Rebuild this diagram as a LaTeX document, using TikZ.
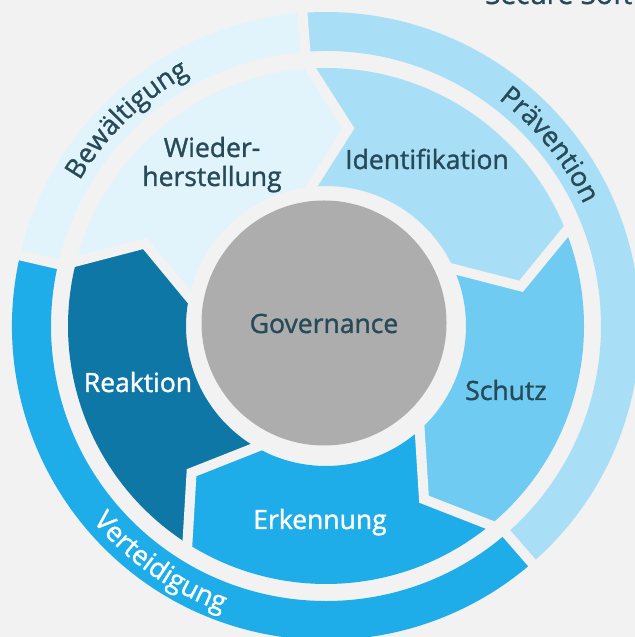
\documentclass[tikz,border=0pt]{standalone}
\usepackage{fontspec}
\setmainfont{Open Sans}
\newfontfamily\medfont[FakeBold=1.3]{Open Sans}
\newfontfamily\ringfont[FakeBold=1.1]{Open Sans}
\usetikzlibrary{decorations.text,calc}
\definecolor{bg}{HTML}{F2F2F2}
\definecolor{cVL}{HTML}{E1F4FC}
\definecolor{cL}{HTML}{A9DFF6}
\definecolor{cM}{HTML}{6FCBF1}
\definecolor{cB}{HTML}{1FADEA}
\definecolor{cD}{HTML}{0F77A6}
\definecolor{cG}{HTML}{ADADAD}
\definecolor{txt}{HTML}{274A58}
\newcommand{\segfill}[3]{%
  \fill[#1] (#2:258) arc[start angle=#2, end angle=#3, radius=258]
    -- ({#3-10}:199) -- ({#3+2.5}:140)
    arc[start angle={#3+2.5}, end angle={#2+2.5}, radius=140]
    -- ({#2-10}:199) -- cycle;}
\newcommand{\segcut}[1]{%
  \draw[gapline] ($({#1-10}:199)!1.3!(#1:258)$) -- ({#1-10}:199)
    -- ($({#1-10}:199)!1.3!({#1+2.5}:140)$);}
\newcommand{\ringfill}[3]{%
  \fill[#1] (#2:314) arc[start angle=#2, end angle=#3, radius=314]
    -- (#3:275) arc[start angle=#3, end angle=#2, radius=275] -- cycle;}
\begin{document}
\begin{tikzpicture}[x=1bp,y=1bp,
  gapline/.style={draw=bg, line width=10bp, line join=miter},
  lab/.style={font=\medfont\fontsize{26.5bp}{30bp}\selectfont, inner sep=0pt, align=center},
  darklab/.style={lab, text=txt},
  whitelab/.style={lab, text=white}]
\useasboundingbox (0,0) rectangle (635,637);
\clip (0,0) rectangle (635,637);
\fill[bg] (0,0) rectangle (635,637);
\node[anchor=base west, text=txt, font=\ringfont\fontsize{28bp}{32bp}\selectfont, inner sep=0pt] (title) at (485,633) {Secure Software};
\begin{scope}[shift={(326,311)}]
  % inner segments
  \segfill{cL}{93.5}{21.5}
  \segfill{cM}{21.5}{-50.5}
  \segfill{cB}{-50.5}{-122.5}
  \segfill{cD}{-122.5}{-194.5}
  \segfill{cVL}{165.5}{93.5}
  \segcut{93.5}
  \segcut{21.5}
  \segcut{-50.5}
  \segcut{-122.5}
  \segcut{165.5}
  % outer ring
  \ringfill{cL}{-49}{94.3}
  \ringfill{cVL}{94.3}{167}
  \ringfill{cB}{167}{311}
  \draw[gapline] (94.3:268) -- (94.3:322);
  \draw[gapline] (167:268) -- (167:322);
  \draw[gapline] (-49:268) -- (-49:322);
  % outer labels
  \path[decorate, decoration={text along path, text align=center,
    text={|\ringfont\fontsize{27bp}{30bp}\selectfont\color{txt}|Bewältigung}}]
    (170:286) arc[start angle=170, end angle=98, radius=286];
  \path[decorate, decoration={text along path, text align=center,
    text={|\ringfont\fontsize{27bp}{30bp}\selectfont\color{txt}|Prävention}}]
    (75:285) arc[start angle=75, end angle=3, radius=285];
  \path[decorate, decoration={text along path, text align=center,
    text={|\ringfont\fontsize{27bp}{30bp}\selectfont\color{white}|Verteidigung}}]
    (190:304) arc[start angle=190, end angle=280, radius=304];
\end{scope}
\node[circle, fill=cG, minimum size=245bp, inner sep=0pt] (gov) at (324,314) {};
\node[darklab, anchor=base] (govlab) at (324,304) {Governance};
\node[darklab, anchor=base] (ident) at (427,468) {Identifikation};
\node[darklab, anchor=base] (schutz) at (506,237) {Schutz};
\node[whitelab, anchor=base] (erk) at (320,108) {Erkennung};
\node[whitelab, anchor=base] (reak) at (138,245) {Reaktion};
\node[darklab, anchor=base] (wied1) at (212,480) {Wieder-};
\node[darklab, anchor=base] (wied2) at (212,451) {herstellung};
\end{tikzpicture}
\end{document}
